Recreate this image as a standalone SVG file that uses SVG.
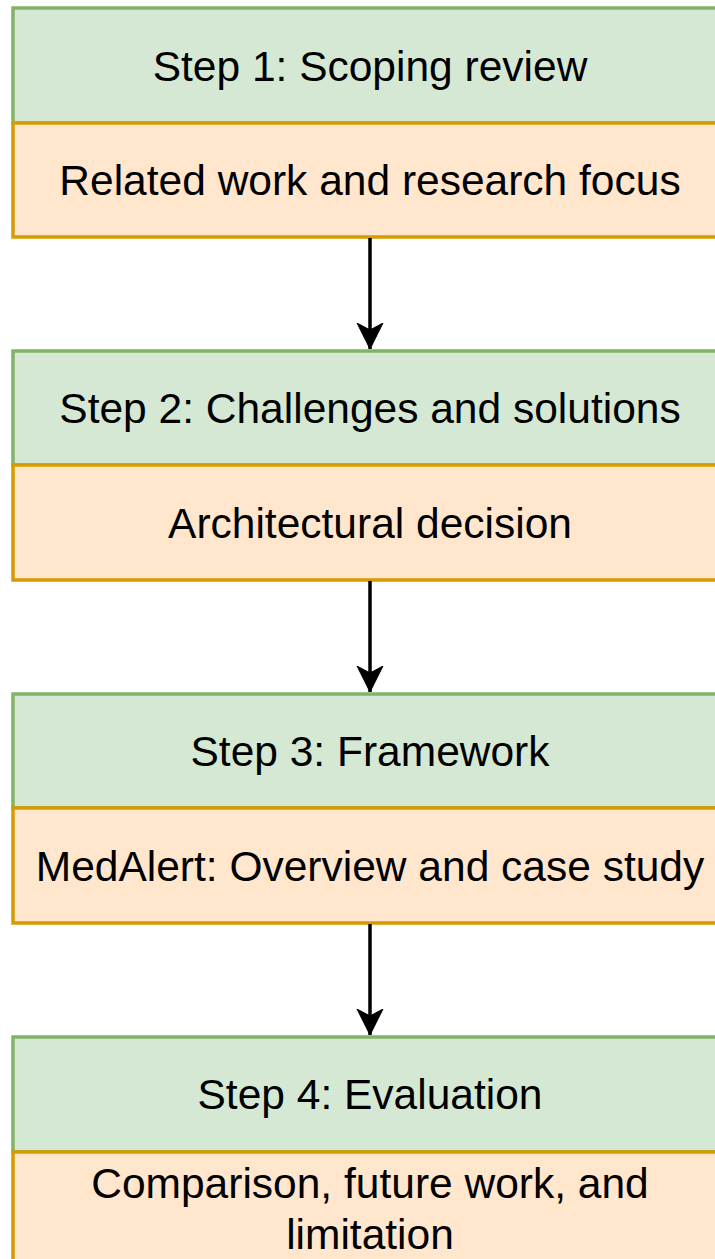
<svg xmlns="http://www.w3.org/2000/svg" width="715" height="1259" viewBox="0 0 715 1259">
  <style>
    .g { fill: #d5e8d4; stroke: #82b366; stroke-width: 3.5; }
    .o { fill: #ffe6cc; stroke: #d79b00; stroke-width: 3.5; }
    .t { font-family: "Liberation Sans", Arial, sans-serif; font-size: 42.5px; fill: #000000; text-anchor: middle; }
    .c { stroke: #000000; stroke-width: 3.5; fill: none; }
  </style>
  <defs>
    <marker id="arr" markerUnits="userSpaceOnUse" markerWidth="30" markerHeight="30" viewBox="0 0 30 30" refX="26" refY="15" orient="auto">
      <path d="M0,2 L26,15 L0,28 L7,15 Z" fill="#000000" stroke="#000000" stroke-width="1"/>
    </marker>
  </defs>
  <rect width="715" height="1259" fill="#ffffff"/>
  <g id="step1">
    <rect class="g" x="13" y="8" width="716" height="115"/>
    <text class="t" x="370" y="81">Step 1: Scoping review</text>
    <rect class="o" x="13" y="123" width="716" height="114"/>
    <text class="t" x="370" y="195">Related work and research focus</text>
  </g>
  <g id="step2">
    <rect class="g" x="13" y="351" width="716" height="114"/>
    <text class="t" x="370" y="423">Step 2: Challenges and solutions</text>
    <rect class="o" x="13" y="465" width="716" height="115"/>
    <text class="t" x="370" y="538">Architectural decision</text>
  </g>
  <g id="step3">
    <rect class="g" x="13" y="694" width="716" height="114"/>
    <text class="t" x="370" y="766">Step 3: Framework</text>
    <rect class="o" x="13" y="808" width="716" height="115"/>
    <text class="t" x="370" y="881">MedAlert: Overview and case study</text>
  </g>
  <g id="step4">
    <rect class="g" x="13" y="1037" width="716" height="115"/>
    <text class="t" x="370" y="1109">Step 4: Evaluation</text>
    <rect class="o" x="13" y="1152" width="716" height="115"/>
    <text class="t" x="370" y="1198">Comparison, future work, and</text>
    <text class="t" x="370" y="1249">limitation</text>
  </g>
  <g id="connectors">
    <path class="c" d="M370,238 L370,349" marker-end="url(#arr)"/>
    <path class="c" d="M370,581 L370,692" marker-end="url(#arr)"/>
    <path class="c" d="M370,924 L370,1035" marker-end="url(#arr)"/>
  </g>
</svg>
